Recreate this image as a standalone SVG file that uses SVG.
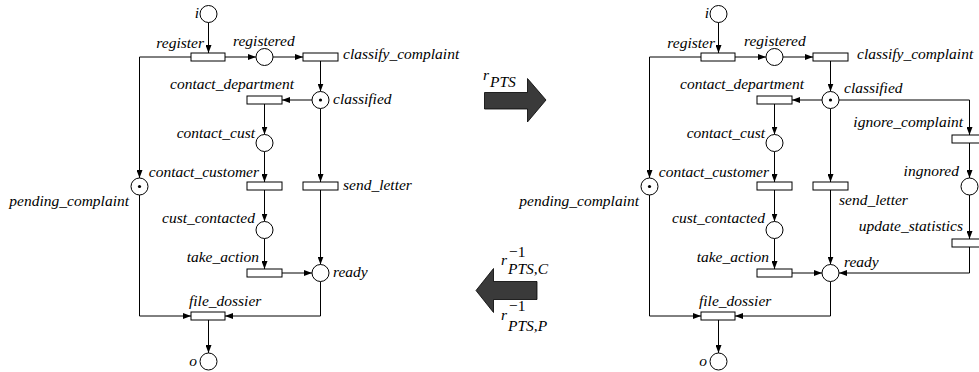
<svg xmlns="http://www.w3.org/2000/svg" width="979" height="372" viewBox="0 0 979 372">
<style>
.pl{fill:#fff;stroke:#000;stroke-width:1}
.tr{fill:#fff;stroke:#000;stroke-width:1}
.tk{fill:#000}
.ln{fill:none;stroke:#000;stroke-width:1;marker-end:url(#ah)}
.t{font-family:'Liberation Serif','DejaVu Serif',serif;font-style:italic;font-size:15.5px;fill:#000}
.e{text-anchor:end}
.big{fill:#3a3a3a;stroke:#000;stroke-width:0.8}
</style>
<defs>
<marker id="ah" markerUnits="userSpaceOnUse" markerWidth="8" markerHeight="6" refX="8" refY="3" orient="auto">
<path d="M0,0 L8,3 L0,6 z" fill="#000"/>
</marker>
</defs>
<rect width="979" height="372" fill="#fff"/>

<g id="connectors">
<path class="ln" d="M208.5,22.5 V53"/>
<path class="ln" d="M225,57 H256"/>
<path class="ln" d="M273,57 H303"/>
<path class="ln" d="M320.5,61 V91.5"/>
<path class="ln" d="M312,100 H282"/>
<path class="ln" d="M264.5,104 V134.5"/>
<path class="ln" d="M264.5,151.5 V182"/>
<path class="ln" d="M320.5,108.5 V182"/>
<path class="ln" d="M191,57 H139.5 V178"/>
<path class="ln" d="M264.5,190 V221.5"/>
<path class="ln" d="M264.5,238.5 V269"/>
<path class="ln" d="M282,273 H312"/>
<path class="ln" d="M320.5,190 V264.5"/>
<path class="ln" d="M139.5,195 V316 H191"/>
<path class="ln" d="M320.5,281.5 V316 H225"/>
<path class="ln" d="M208.5,320 V353"/>

<path class="ln" d="M718.5,22.5 V53"/>
<path class="ln" d="M735,57 H766"/>
<path class="ln" d="M783,57 H813"/>
<path class="ln" d="M830.5,61 V91.5"/>
<path class="ln" d="M822,100 H792"/>
<path class="ln" d="M774.5,104 V134.5"/>
<path class="ln" d="M774.5,151.5 V182"/>
<path class="ln" d="M830.5,108.5 V182"/>
<path class="ln" d="M701,57 H649.5 V178"/>
<path class="ln" d="M774.5,190 V221.5"/>
<path class="ln" d="M774.5,238.5 V269"/>
<path class="ln" d="M792,273 H822"/>
<path class="ln" d="M830.5,190 V264.5"/>
<path class="ln" d="M649.5,195 V316 H701"/>
<path class="ln" d="M830.5,281.5 V316 H735"/>
<path class="ln" d="M718.5,320 V353"/>
<path class="ln" d="M839,100 H969.5 V135"/>
<path class="ln" d="M969.5,143 V178"/>
<path class="ln" d="M969.5,195 V239"/>
<path class="ln" d="M969.5,247 V273 H839"/>
</g>

<!-- Left net -->
<g id="L_i"><circle class="pl" cx="208.5" cy="14" r="8.5"/><text class="t e" x="199" y="18">i</text></g>
<g id="L_register"><rect class="tr" x="191" y="53" width="34" height="8"/><text class="t e" x="204" y="48">register</text></g>
<g id="L_registered"><circle class="pl" cx="264.5" cy="57" r="8.5"/><text class="t" x="233" y="46">registered</text></g>
<g id="L_classify_complaint"><rect class="tr" x="303" y="53" width="35" height="8"/><text class="t" x="343" y="59">classify_complaint</text></g>
<g id="L_classified"><circle class="pl" cx="320.5" cy="100" r="8.5"/><circle class="tk" cx="320.5" cy="100" r="1.6"/><text class="t" x="333" y="104">classified</text></g>
<g id="L_contact_department"><rect class="tr" x="247" y="96" width="35" height="8"/><text class="t e" x="294" y="89">contact_department</text></g>
<g id="L_contact_cust"><circle class="pl" cx="264.5" cy="143" r="8.5"/><text class="t e" x="255" y="138">contact_cust</text></g>
<g id="L_contact_customer"><rect class="tr" x="247" y="182" width="35" height="8"/><text class="t e" x="259" y="177">contact_customer</text></g>
<g id="L_send_letter"><rect class="tr" x="303" y="182" width="35" height="8"/><text class="t" x="343" y="190">send_letter</text></g>
<g id="L_pending_complaint"><circle class="pl" cx="139.5" cy="186.5" r="8.5"/><circle class="tk" cx="139.5" cy="186.5" r="1.6"/><text class="t e" x="129" y="206">pending_complaint</text></g>
<g id="L_cust_contacted"><circle class="pl" cx="264.5" cy="230" r="8.5"/><text class="t e" x="255" y="223">cust_contacted</text></g>
<g id="L_take_action"><rect class="tr" x="247" y="269" width="35" height="8"/><text class="t e" x="259" y="262">take_action</text></g>
<g id="L_ready"><circle class="pl" cx="320.5" cy="273" r="8.5"/><text class="t" x="333" y="277">ready</text></g>
<g id="L_file_dossier"><rect class="tr" x="191" y="312" width="34" height="8"/><text class="t" x="189" y="306">file_dossier</text></g>
<g id="L_o"><circle class="pl" cx="208.5" cy="361.5" r="8.5"/><text class="t e" x="197" y="366">o</text></g>

<!-- Middle arrows -->
<g id="arrow_rPTS">
<path class="big" d="M484.5,92.5 H527.5 V78.5 L546,100 L527.5,122 V109 H484.5 z"/>
<text class="t" x="483" y="80">r<tspan x="490" y="87">PTS</tspan></text>
</g>
<g id="arrow_inverse">
<path class="big" d="M537,281.5 H493.5 V268.5 L476,290.5 L493.5,312.5 V299.5 H537 z"/>
<text class="t" x="501" y="265">r<tspan x="509" y="257" style="font-style:normal">−1</tspan><tspan x="508" y="273.5">PTS,C</tspan></text>
<text class="t" x="501" y="319.5">r<tspan x="509" y="311" style="font-style:normal">−1</tspan><tspan x="508" y="331">PTS,P</tspan></text>
</g>

<!-- Right net -->
<g id="R_i"><circle class="pl" cx="718.5" cy="14" r="8.5"/><text class="t e" x="709" y="18">i</text></g>
<g id="R_register"><rect class="tr" x="701" y="53" width="34" height="8"/><text class="t e" x="715" y="48">register</text></g>
<g id="R_registered"><circle class="pl" cx="774.5" cy="57" r="8.5"/><text class="t" x="744" y="46">registered</text></g>
<g id="R_classify_complaint"><rect class="tr" x="813" y="53" width="35" height="8"/><text class="t" x="857" y="59">classify_complaint</text></g>
<g id="R_classified"><circle class="pl" cx="830.5" cy="100" r="8.5"/><circle class="tk" cx="830.5" cy="100" r="1.6"/><text class="t" x="844" y="93">classified</text></g>
<g id="R_contact_department"><rect class="tr" x="757" y="96" width="35" height="8"/><text class="t e" x="804" y="89">contact_department</text></g>
<g id="R_contact_cust"><circle class="pl" cx="774.5" cy="143" r="8.5"/><text class="t e" x="765" y="138">contact_cust</text></g>
<g id="R_contact_customer"><rect class="tr" x="757" y="182" width="35" height="8"/><text class="t e" x="769" y="177">contact_customer</text></g>
<g id="R_send_letter"><rect class="tr" x="813" y="182" width="35" height="8"/><text class="t" x="839" y="205">send_letter</text></g>
<g id="R_pending_complaint"><circle class="pl" cx="649.5" cy="186.5" r="8.5"/><circle class="tk" cx="649.5" cy="186.5" r="1.6"/><text class="t e" x="639" y="206">pending_complaint</text></g>
<g id="R_cust_contacted"><circle class="pl" cx="774.5" cy="230" r="8.5"/><text class="t e" x="765" y="223">cust_contacted</text></g>
<g id="R_take_action"><rect class="tr" x="757" y="269" width="35" height="8"/><text class="t e" x="769" y="262">take_action</text></g>
<g id="R_ready"><circle class="pl" cx="830.5" cy="273" r="8.5"/><text class="t" x="844" y="267">ready</text></g>
<g id="R_file_dossier"><rect class="tr" x="701" y="312" width="34" height="8"/><text class="t" x="699" y="306">file_dossier</text></g>
<g id="R_o"><circle class="pl" cx="718.5" cy="361.5" r="8.5"/><text class="t e" x="707" y="366">o</text></g>
<g id="R_ignore_complaint"><rect class="tr" x="952" y="135" width="35" height="8"/><text class="t e" x="963" y="127">ignore_complaint</text></g>
<g id="R_ingnored"><circle class="pl" cx="969.5" cy="186.5" r="8.5"/><text class="t e" x="959" y="176">ingnored</text></g>
<g id="R_update_statistics"><rect class="tr" x="952" y="239" width="35" height="8"/><text class="t e" x="963" y="231">update_statistics</text></g>
</svg>
